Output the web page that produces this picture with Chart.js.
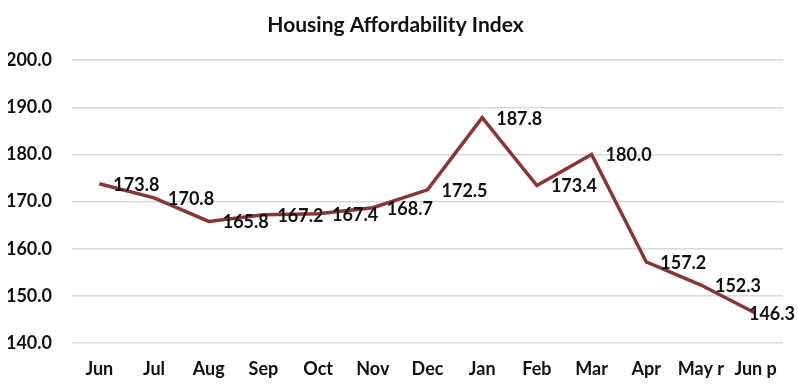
<!DOCTYPE html>
<html>
<head>
<meta charset="utf-8">
<script src="https://cdn.jsdelivr.net/npm/chart.js@4"></script>
<style>
    html, body { margin: 0; padding: 0; background: #ffffff; }
    #wrap { width: 798px; height: 386px; }
</style>
</head>
<body>
<div id="wrap"><canvas id="affordChart"></canvas></div>
<script>
const months = ['Jun', 'Jul', 'Aug', 'Sep', 'Oct', 'Nov', 'Dec', 'Jan', 'Feb', 'Mar', 'Apr', 'May r', 'Jun p'];
const indexValues = [173.8, 170.8, 165.8, 167.2, 167.4, 168.7, 172.5, 187.8, 173.4, 180.0, 157.2, 152.3, 146.3];
const yTicks = [140, 150, 160, 170, 180, 190, 200];

const fontFamily = 'Lato, "Open Sans", sans-serif';
const lineColor = '#8a3636';

// draw value labels to the right of each point (kept inside the canvas)
const valueLabels = {
    id: 'valueLabels',
    afterDatasetsDraw(chart) {
        const ctx = chart.ctx;
        const meta = chart.getDatasetMeta(0);
        ctx.save();
        ctx.font = 'bold 18px ' + fontFamily;
        ctx.fillStyle = '#111111';
        ctx.textAlign = 'left';
        ctx.textBaseline = 'middle';
        meta.data.forEach((pt, i) => {
            const txt = indexValues[i].toFixed(1);
            const w = ctx.measureText(txt).width;
            const x = Math.min(pt.x + 14, chart.width - 3 - w);
            ctx.fillText(txt, x, pt.y + 1);
        });
        ctx.restore();
    }
};

const ctx = document.getElementById('affordChart').getContext('2d');
new Chart(ctx, {
    type: 'line',
    data: {
        labels: months,
        datasets: [{
            label: 'Housing Affordability Index',
            data: indexValues,
            borderColor: lineColor,
            borderWidth: 3.5,
            pointRadius: 0,
            tension: 0,
            fill: false
        }]
    },
    options: {
        responsive: true,
        maintainAspectRatio: false,
        animation: false,
        layout: {
            padding: { left: 8, right: 15, top: 4, bottom: 0 }
        },
        plugins: {
            legend: { display: false },
            tooltip: { enabled: false },
            title: {
                display: true,
                text: 'Housing Affordability Index',
                color: '#111111',
                font: { family: fontFamily, size: 21, weight: 'bold' },
                padding: { top: 9, bottom: 22 }
            }
        },
        scales: {
            y: {
                min: yTicks[0],
                max: yTicks[yTicks.length - 1],
                border: { display: false },
                grid: { color: '#d9d9d9', lineWidth: 1.5, drawTicks: false },
                afterBuildTicks(axis) {
                    axis.ticks = yTicks.map(v => ({ value: v }));
                },
                afterFit(axis) {
                    axis.width = 64;
                },
                ticks: {
                    padding: 20,
                    color: '#111111',
                    font: { family: fontFamily, size: 18, weight: 'bold' },
                    callback: v => Number(v).toFixed(1)
                }
            },
            x: {
                offset: true,
                border: { display: false },
                grid: { display: false, offset: true, drawTicks: false },
                afterFit(axis) {
                    axis.height = 43;
                },
                ticks: {
                    padding: 15,
                    color: '#111111',
                    maxRotation: 0,
                    autoSkip: false,
                    font: { family: fontFamily, size: 18, weight: 'bold' }
                }
            }
        }
    },
    plugins: [valueLabels]
});
</script>
</body>
</html>
